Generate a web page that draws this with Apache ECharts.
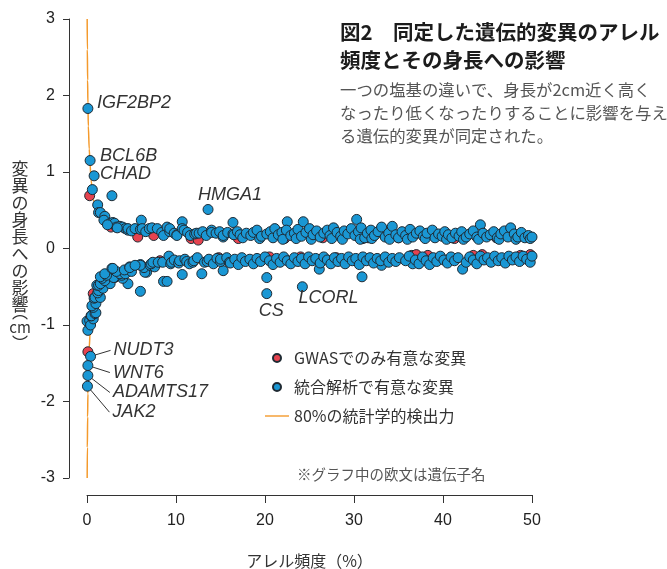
<!DOCTYPE html>
<html>
<head>
<meta charset="utf-8">
<script src="https://cdn.jsdelivr.net/npm/echarts@6/dist/echarts.min.js"></script>
<style>
  html, body { margin: 0; padding: 0; background: #fff; }
  #chart { width: 667px; height: 569px; }
</style>
</head>
<body>
<div id="chart"></div>
<script>
// Axis ranges (allele frequency in %, effect on height in cm)
const xRange = [0, 50];
const xStep = 10;
const yRange = [-3, 3];
const yStep = 1;

// Named genes: [gene, allele frequency %, effect cm]
const genes = [
  ['IGF2BP2', 0.1, 1.83],
  ['BCL6B', 0.35, 1.15],
  ['CHAD', 0.8, 0.95],
  ['HMGA1', 13.6, 0.51],
  ['CS', 20.2, -0.59],
  ['LCORL', 24.2, -0.50],
  ['NUDT3', 0.4, -1.41],
  ['WNT6', 0.1, -1.53],
  ['ADAMTS17', 0.1, -1.66],
  ['JAK2', 0.05, -1.80]
];

// Variants significant only in the GWAS
const gwasOnly = [
  [0.3, 0.69], [2.7, 0.28], [5.7, 0.15], [7.5, 0.17], [11.7, 0.13], [12.5, 0.11],
  [17.0, 0.13], [22.2, 0.13], [26.5, 0.14], [31.0, 0.13], [31.6, 0.14], [35.0, 0.14],
  [41.3, 0.13], [46.0, 0.14],
  [0.1, -1.35], [0.7, -0.59], [2.5, -0.37], [8.2, -0.16], [14.8, -0.12], [20.5, -0.11],
  [24.0, -0.11], [28.0, -0.12], [36.5, -0.09], [37.0, -0.08], [38.3, -0.09],
  [43.4, -0.09], [44.4, -0.08], [48.7, -0.09], [49.8, -0.08]
];

// Variants significant in the meta-analysis: positive effects
const metaUpper = [
  [0.6, 0.77], [2.8, 0.69], [1.2, 0.57], [1.3, 0.47], [1.5, 0.47], [2.0, 0.42], [1.9, 0.37],
  [2.6, 0.33], [2.9, 0.34], [3.1, 0.33], [3.3, 0.28], [3.7, 0.29], [4.0, 0.28], [4.3, 0.26],
  [4.6, 0.24], [4.6, 0.26], [2.3, 0.31], [3.4, 0.27], [5.0, 0.23], [5.4, 0.26], [6.1, 0.37],
  [6.0, 0.25], [6.2, 0.26], [6.6, 0.22], [7.0, 0.26], [7.3, 0.27], [7.9, 0.26], [8.4, 0.21],
  [8.6, 0.17], [9.0, 0.28], [9.3, 0.22], [9.3, 0.26], [9.8, 0.20], [10.1, 0.18], [10.1, 0.17],
  [10.7, 0.35], [10.7, 0.26], [10.9, 0.24], [11.3, 0.21], [11.6, 0.17], [12.1, 0.19],
  [12.3, 0.20], [12.6, 0.20], [13.0, 0.22], [13.4, 0.17], [14.0, 0.24], [14.0, 0.21],
  [14.5, 0.20], [14.9, 0.22], [15.3, 0.15], [15.3, 0.17], [15.8, 0.21], [16.4, 0.34],
  [16.4, 0.19], [16.5, 0.18], [16.9, 0.22], [17.2, 0.18], [17.5, 0.14], [17.9, 0.20],
  [18.4, 0.17], [18.7, 0.21], [19.1, 0.24], [19.4, 0.13], [19.6, 0.16], [20.2, 0.19],
  [20.6, 0.22], [20.9, 0.14], [21.1, 0.26], [21.5, 0.18], [21.9, 0.21], [22.0, 0.12],
  [22.5, 0.35], [22.4, 0.24], [22.9, 0.17], [23.3, 0.20], [23.5, 0.13], [23.7, 0.25],
  [24.3, 0.35], [24.1, 0.16], [24.6, 0.21], [25.0, 0.26], [25.2, 0.12], [25.4, 0.18],
  [25.8, 0.23], [26.2, 0.15], [26.6, 0.20], [27.0, 0.24], [27.3, 0.17], [27.5, 0.13],
  [27.7, 0.27], [28.1, 0.21], [28.5, 0.16], [28.7, 0.12], [28.9, 0.23], [29.3, 0.19],
  [29.7, 0.26], [30.3, 0.38], [30.1, 0.17], [30.5, 0.22], [30.7, 0.12], [30.8, 0.27],
  [31.2, 0.14], [31.5, 0.20], [31.9, 0.24], [32.0, 0.13], [32.3, 0.17], [32.7, 0.22],
  [33.1, 0.28], [33.5, 0.15], [33.9, 0.20], [34.0, 0.12], [34.3, 0.29], [34.7, 0.18],
  [35.0, 0.14], [35.4, 0.22], [35.8, 0.17], [36.0, 0.12], [36.3, 0.25], [36.6, 0.15],
  [37.0, 0.20], [37.4, 0.23], [37.8, 0.16], [38.0, 0.13], [38.2, 0.20], [38.8, 0.24],
  [39.1, 0.14], [39.5, 0.19], [39.9, 0.16], [40.2, 0.22], [40.4, 0.12], [40.6, 0.18],
  [41.0, 0.14], [41.4, 0.20], [41.8, 0.16], [42.1, 0.22], [42.3, 0.12], [42.6, 0.15],
  [43.0, 0.19], [43.4, 0.23], [43.8, 0.15], [44.0, 0.12], [44.2, 0.31], [44.5, 0.20],
  [44.9, 0.15], [45.3, 0.18], [45.7, 0.22], [46.1, 0.14], [46.3, 0.12], [46.5, 0.19],
  [46.9, 0.23], [47.3, 0.15], [47.6, 0.27], [48.0, 0.19], [48.2, 0.12], [48.4, 0.15],
  [48.8, 0.21], [49.2, 0.14], [49.6, 0.17], [49.8, 0.13], [50.0, 0.15]
];

// Variants significant in the meta-analysis: negative effects
const metaLower = [
  [0.1, -1.07], [0.0, -0.95], [0.3, -0.94], [0.4, -1.00], [0.7, -0.92], [0.45, -0.88],
  [0.5, -0.88], [0.9, -0.85], [1.0, -0.84], [0.7, -0.77], [0.55, -0.75], [1.0, -0.72],
  [0.8, -0.65], [0.9, -0.64], [1.5, -0.64], [1.2, -0.58], [1.3, -0.55], [1.8, -0.52],
  [1.1, -0.48], [1.3, -0.48], [1.5, -0.46], [2.6, -0.46], [4.6, -0.46], [2.0, -0.42],
  [1.7, -0.39], [4.0, -0.39], [1.5, -0.37], [3.1, -0.38], [3.0, -0.38], [2.2, -0.35],
  [3.9, -0.35], [2.0, -0.33], [3.7, -0.33], [4.3, -0.33], [3.3, -0.30], [5.0, -0.30],
  [6.7, -0.31], [6.5, -0.31], [4.2, -0.28], [2.8, -0.26], [2.9, -0.26], [4.8, -0.24],
  [4.8, -0.25], [6.4, -0.25], [6.0, -0.21], [6.0, -0.22], [5.4, -0.22], [7.1, -0.22],
  [7.6, -0.24], [7.2, -0.20], [7.4, -0.18], [6.0, -0.56], [8.6, -0.43], [9.0, -0.43],
  [10.7, -0.34], [12.9, -0.33], [15.3, -0.29], [20.2, -0.38], [26.1, -0.27], [30.9, -0.37],
  [33.1, -0.22], [36.6, -0.20], [42.2, -0.27],
  [8.0, -0.18], [8.5, -0.18], [9.2, -0.10], [9.4, -0.20], [9.5, -0.18], [9.8, -0.15],
  [10.3, -0.19], [10.4, -0.16], [11.0, -0.14], [11.2, -0.17], [11.5, -0.20], [11.9, -0.18],
  [12.0, -0.16], [12.4, -0.12], [13.2, -0.18], [13.5, -0.17], [13.7, -0.14], [14.2, -0.20],
  [14.6, -0.13], [15.0, -0.17], [15.0, -0.14], [15.7, -0.12], [16.0, -0.18], [16.1, -0.19],
  [16.6, -0.14], [17.0, -0.21], [17.4, -0.12], [17.8, -0.17], [18.3, -0.14], [18.7, -0.20],
  [19.1, -0.13], [19.5, -0.17], [20.0, -0.11], [20.5, -0.16], [20.9, -0.21], [21.3, -0.13],
  [21.7, -0.18], [22.1, -0.11], [22.5, -0.16], [22.9, -0.20], [23.3, -0.12], [23.7, -0.17],
  [24.1, -0.13], [24.5, -0.20], [24.9, -0.11], [25.3, -0.16], [25.7, -0.13], [26.2, -0.19],
  [26.6, -0.11], [27.0, -0.15], [27.4, -0.20], [27.8, -0.12], [28.2, -0.17], [28.6, -0.13],
  [29.0, -0.20], [29.4, -0.11], [29.8, -0.16], [30.2, -0.13], [30.6, -0.21], [31.0, -0.11],
  [31.4, -0.16], [31.8, -0.12], [32.2, -0.19], [32.6, -0.13], [33.0, -0.16], [33.5, -0.11],
  [33.9, -0.18], [34.3, -0.13], [34.7, -0.17], [35.1, -0.12], [35.8, -0.16], [36.2, -0.10],
  [36.9, -0.15], [37.3, -0.20], [37.7, -0.11], [38.1, -0.16], [38.5, -0.21], [38.9, -0.12],
  [39.3, -0.17], [39.7, -0.10], [40.1, -0.15], [40.5, -0.19], [40.9, -0.11], [41.3, -0.16],
  [41.7, -0.12], [42.6, -0.18], [43.0, -0.11], [43.4, -0.15], [43.8, -0.20], [44.2, -0.10],
  [44.6, -0.15], [45.0, -0.12], [45.4, -0.18], [45.8, -0.10], [46.2, -0.16], [46.6, -0.12],
  [47.0, -0.19], [47.4, -0.10], [47.8, -0.15], [48.2, -0.11], [48.6, -0.17], [49.0, -0.10],
  [49.4, -0.14], [49.8, -0.18], [50.0, -0.10]
];

// 80% statistical power threshold
const powerUpper = [
  [0.02, 3.0], [0.04, 2.6], [0.07, 2.2], [0.1, 1.9], [0.15, 1.6], [0.25, 1.3], [0.35, 1.1],
  [0.45, 0.9], [0.7, 0.64], [1.1, 0.47], [1.8, 0.37], [3, 0.30], [5, 0.25], [8, 0.21],
  [12, 0.19], [20, 0.16], [30, 0.15], [40, 0.14], [50, 0.14]
];
const powerLower = [
  [0.02, -3.0], [0.04, -2.6], [0.07, -2.2], [0.1, -1.9], [0.15, -1.6], [0.25, -1.3], [0.35, -1.1],
  [0.45, -0.9], [0.7, -0.64], [1.1, -0.47], [1.8, -0.37], [3, -0.30], [5, -0.25], [8, -0.21],
  [12, -0.19], [20, -0.16], [30, -0.15], [40, -0.14], [50, -0.14]
];

const legendNames = ['GWASでのみ有意な変異', '統合解析で有意な変異', '80%の統計学的検出力'];

// Gene label placement in pixels from the point centre (left edge, vertical middle)
const geneLabelOffset = {
  IGF2BP2: [9, -6], BCL6B: [10, -5], CHAD: [6, -2], HMGA1: [-10, -14],
  CS: [-8, 17], LCORL: [-4, 11],
  NUDT3: [23, -6], WNT6: [25, 7], ADAMTS17: [25, 17], JAK2: [25, 26]
};
const leaderGenes = ['NUDT3', 'WNT6', 'ADAMTS17', 'JAK2'];

const BLUE = '#1a97d4';
const RED = '#e5434f';
const ORANGE = '#f49a2c';
const EDGE = '#1f2a33';
const CJK = '"Noto Sans CJK JP", "Noto Sans", sans-serif';
const LATIN = '"Liberation Sans", Arial, sans-serif';

const chart = echarts.init(document.getElementById('chart'), null, { renderer: 'canvas' });

const yTitleStyle = { fontFamily: CJK, fill: '#333', align: 'center', verticalAlign: 'middle' };

chart.setOption({
  backgroundColor: '#ffffff',
  animation: false,
  title: {
    text: '図2　同定した遺伝的変異のアレル\n頻度とその身長への影響',
    subtext: '一つの塩基の違いで、身長が2cm近く高く\nなったり低くなったりすることに影響を与え\nる遺伝的変異が同定された。',
    left: 340,
    top: 18,
    padding: 0,
    itemGap: 4,
    textStyle: { fontFamily: CJK, fontSize: 20.5, fontWeight: 'bold', lineHeight: 28, color: '#1c1c1c' },
    subtextStyle: { fontFamily: CJK, fontSize: 16.4, lineHeight: 23, color: '#555' }
  },
  legend: {
    data: [
      { name: legendNames[0] },
      { name: legendNames[1] },
      { name: legendNames[2], icon: 'path://M0,0L24,0L24,1.4L0,1.4Z' }
    ],
    orient: 'vertical',
    left: 260,
    top: 345,
    itemWidth: 24,
    itemHeight: 8,
    itemGap: 13,
    textStyle: { fontFamily: CJK, fontSize: 16, color: '#333' }
  },
  grid: { left: 87, right: 135, top: 19, bottom: 91, outerBoundsMode: 'none', containLabel: false },
  xAxis: {
    type: 'value',
    min: xRange[0], max: xRange[1], interval: xStep,
    offset: 17,
    name: 'アレル頻度（%）',
    nameLocation: 'middle',
    nameGap: 58,
    nameTextStyle: { fontFamily: CJK, fontSize: 16, color: '#333' },
    axisLine: { show: true, onZero: false, lineStyle: { color: '#333', width: 1 } },
    axisTick: { show: true, length: 8, lineStyle: { color: '#333' } },
    axisLabel: { fontFamily: LATIN, fontSize: 16, color: '#222', margin: 18 },
    splitLine: { show: false }
  },
  yAxis: {
    type: 'value',
    min: yRange[0], max: yRange[1], interval: yStep,
    offset: 18,
    axisLine: { show: true, onZero: false, lineStyle: { color: '#333', width: 1 } },
    axisTick: { show: true, length: 6, lineStyle: { color: '#333' } },
    axisLabel: { fontFamily: LATIN, fontSize: 16, color: '#222', margin: 14 },
    splitLine: { show: false }
  },
  graphic: [
    {
      type: 'text', x: 20, y: 160,
      style: Object.assign({}, yTitleStyle, {
        text: '変\n異\nの\n身\n長\nへ\nの\n影\n響', fontSize: 17, lineHeight: 17, verticalAlign: 'top'
      })
    },
    { type: 'text', x: 20, y: 312, style: Object.assign({}, yTitleStyle, { text: '︵', fontSize: 16 }) },
    { type: 'text', x: 20, y: 327, style: Object.assign({}, yTitleStyle, { text: 'cm', fontSize: 15 }) },
    { type: 'text', x: 20, y: 343, style: Object.assign({}, yTitleStyle, { text: '︶', fontSize: 16 }) },
    {
      type: 'text', x: 297, y: 474,
      style: { text: '※グラフ中の欧文は遺伝子名', fontFamily: CJK, fontSize: 14.5, fill: '#555', verticalAlign: 'middle' }
    }
  ],
  series: [
    {
      name: legendNames[2], type: 'line', data: powerUpper, symbol: 'none', z: 1,
      smooth: 0.3, smoothMonotone: 'x',
      lineStyle: { color: ORANGE, width: 1.5 }, itemStyle: { color: ORANGE }
    },
    {
      name: legendNames[2], type: 'line', data: powerLower, symbol: 'none', z: 1,
      smooth: 0.3, smoothMonotone: 'x',
      lineStyle: { color: ORANGE, width: 1.5 }, itemStyle: { color: ORANGE }
    },
    {
      name: legendNames[0], type: 'scatter', data: gwasOnly, symbolSize: 10, z: 2,
      itemStyle: { color: RED, borderColor: EDGE, borderWidth: 1, opacity: 1 }
    },
    {
      name: legendNames[1], type: 'scatter', z: 3,
      data: metaUpper.concat(metaLower, genes.map(g => [g[1], g[2]])),
      symbolSize: 10,
      itemStyle: { color: BLUE, borderColor: EDGE, borderWidth: 1, opacity: 1 }
    },
    {
      name: 'genes', type: 'custom', z: 4,
      data: genes.map(g => [g[1], g[2]]),
      encode: { x: 0, y: 1 },
      renderItem(params, api) {
        const g = genes[params.dataIndex];
        const p = api.coord([api.value(0), api.value(1)]);
        const off = geneLabelOffset[g[0]];
        const tx = p[0] + off[0];
        const ty = p[1] + off[1];
        const children = [{
          type: 'text',
          x: tx, y: ty,
          style: {
            text: g[0], fontFamily: LATIN, fontStyle: 'italic', fontSize: 18,
            fill: '#333', align: 'left', verticalAlign: 'middle'
          }
        }];
        if (leaderGenes.indexOf(g[0]) >= 0) {
          const ex = tx - 3, ey = ty;
          const dx = ex - p[0], dy = ey - p[1];
          const len = Math.sqrt(dx * dx + dy * dy);
          children.push({
            type: 'line',
            shape: { x1: p[0] + dx / len * 5, y1: p[1] + dy / len * 5, x2: ex, y2: ey },
            style: { stroke: '#333', lineWidth: 1 }
          });
        }
        return { type: 'group', children };
      }
    }
  ]
});
</script>
</body>
</html>
